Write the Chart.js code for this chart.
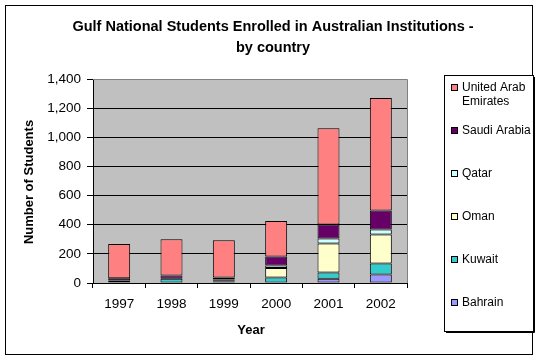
<!DOCTYPE html>
<html>
<head>
<meta charset="utf-8">
<script src="https://cdn.jsdelivr.net/npm/chart.js@4/dist/chart.umd.min.js"></script>
<style>
  html, body { margin: 0; padding: 0; background: #fff; }
  #wrap { width: 543px; height: 361px; }
</style>
</head>
<body>
<div id="wrap"><canvas id="myChart" width="543" height="361"></canvas></div>
<script>
// data
var years = ['1997', '1998', '1999', '2000', '2001', '2002'];
var bahrain = [0, 0, 0, 3, 30, 58];
var kuwait  = [18, 30, 10, 34, 42, 75];
var oman    = [0, 0, 6, 66, 199, 200];
var qatar   = [0, 0, 8, 17, 34, 34];
var saudi   = [14, 22, 13, 62, 97, 131];
var uae     = [235, 248, 256, 243, 660, 771];

var yTicks = [0, 200, 400, 600, 800, 1000, 1200, 1400];

var FONT = '"Liberation Sans", Arial, sans-serif';

function ds(label, data, color) {
  return {
    label: label,
    data: data,
    backgroundColor: color,
    borderColor: '#000',
    // no outline for empty segments
    borderWidth: function (ctx) { return ctx.raw ? 1 : 0; },
    borderSkipped: false,
    barPercentage: 0.42,
    categoryPercentage: 1
  };
}

var chartData = {
  labels: years,
  datasets: [
    ds('Bahrain', bahrain, '#9999FF'),
    ds('Kuwait', kuwait, '#33CCCC'),
    ds('Oman', oman, '#FFFFCC'),
    ds('Qatar', qatar, '#CCFFFF'),
    ds('Saudi Arabia', saudi, '#660066'),
    ds('United Arab Emirates', uae, '#FF8080')
  ]
};

// wraps legend text to a width
function wrap(ctx, text, maxW) {
  var words = text.split(' '), lines = [], cur = '';
  words.forEach(function (w) {
    var t = cur ? cur + ' ' + w : w;
    if (cur && ctx.measureText(t).width > maxW) { lines.push(cur); cur = w; }
    else cur = t;
  });
  if (cur) lines.push(cur);
  return lines;
}

var excelLook = {
  id: 'excelLook',
  beforeDraw: function (chart) {
    var c = chart.ctx, a = chart.chartArea;
    c.save();
    c.fillStyle = '#fff';
    c.fillRect(0, 0, chart.width, chart.height);
    c.fillStyle = '#C0C0C0';
    c.fillRect(a.left, a.top, a.right - a.left, a.bottom - a.top);
    c.restore();
  },
  afterDraw: function (chart) {
    var c = chart.ctx, a = chart.chartArea;
    c.save();
    // plot frame top/right (grey)
    c.strokeStyle = '#808080';
    c.lineWidth = 1;
    c.beginPath();
    c.moveTo(a.left, a.top + 0.5);
    c.lineTo(Math.round(a.right) + 0.5, a.top + 0.5);
    c.lineTo(Math.round(a.right) + 0.5, a.bottom);
    c.stroke();

    // outer border
    c.strokeStyle = '#000';
    c.strokeRect(5.5, 5.5, 527, 349);

    // title
    c.fillStyle = '#000';
    c.textAlign = 'center';
    c.textBaseline = 'middle';
    c.font = 'bold 14.5px ' + FONT;
    c.fillText('Gulf National Students Enrolled in Australian Institutions -', 273, 27);
    c.fillText('by country', 273, 48);

    // axis titles
    c.font = 'bold 13px ' + FONT;
    c.fillText('Year', 251, 330);
    c.save();
    c.translate(29, 182);
    c.rotate(-Math.PI / 2);
    c.fillText('Number of Students', 0, 0);
    c.restore();

    // legend box
    c.fillStyle = '#fff';
    c.fillRect(444.5, 75.5, 89, 256);
    c.strokeStyle = '#000';
    c.strokeRect(444.5, 75.5, 89, 256);
    c.beginPath();
    c.moveTo(534.5, 77);
    c.lineTo(534.5, 332.5);
    c.lineTo(446, 332.5);
    c.stroke();

    c.font = '12px ' + FONT;
    c.textAlign = 'left';
    var items = chart.data.datasets.slice().reverse();
    items.forEach(function (d, i) {
      var y = 88 + i * 42.9;
      c.fillStyle = d.backgroundColor;
      c.fillRect(451.5, Math.round(y - 3) - 0.5, 6, 6);
      c.strokeStyle = '#000';
      c.strokeRect(451.5, Math.round(y - 3) - 0.5, 6, 6);
      c.fillStyle = '#000';
      wrap(c, d.label, 70).forEach(function (ln, k) {
        c.fillText(ln, 462, y + k * 14);
      });
    });
    c.restore();
  }
};

var chartConfig = {
  type: 'bar',
  data: chartData,
  options: {
    responsive: false,
    animation: false,
    layout: { padding: { left: 0, top: 79, right: 136, bottom: 0 } },
    plugins: {
      legend: { display: false },
      title: { display: false },
      tooltip: { enabled: false }
    },
    scales: {
      x: {
        stacked: true,
        afterFit: function (s) { s.height = 78; },
        grid: {
          offset: true,
          drawOnChartArea: false,
          color: '#000',
          tickLength: 5
        },
        border: { color: '#000' },
        ticks: { color: '#000', font: { family: FONT, size: 13.5 }, padding: 8 }
      },
      y: {
        stacked: true,
        min: 0,
        max: 1400,
        afterFit: function (s) { s.width = 93; },
        afterBuildTicks: function (s) {
          s.ticks = yTicks.map(function (v) { return { value: v }; });
        },
        grid: {
          color: function (ctx) { return ctx.tick && ctx.tick.value === 1400 ? '#808080' : '#000'; },
          tickColor: '#000',
          tickLength: 6
        },
        border: { color: '#000' },
        ticks: {
          color: '#000',
          font: { family: FONT, size: 13.5 },
          padding: 6,
          callback: function (v) { return Number(v).toLocaleString('en-US'); }
        }
      }
    }
  },
  plugins: [excelLook]
};

var myChart = new Chart(document.getElementById('myChart'), chartConfig);
</script>
</body>
</html>
